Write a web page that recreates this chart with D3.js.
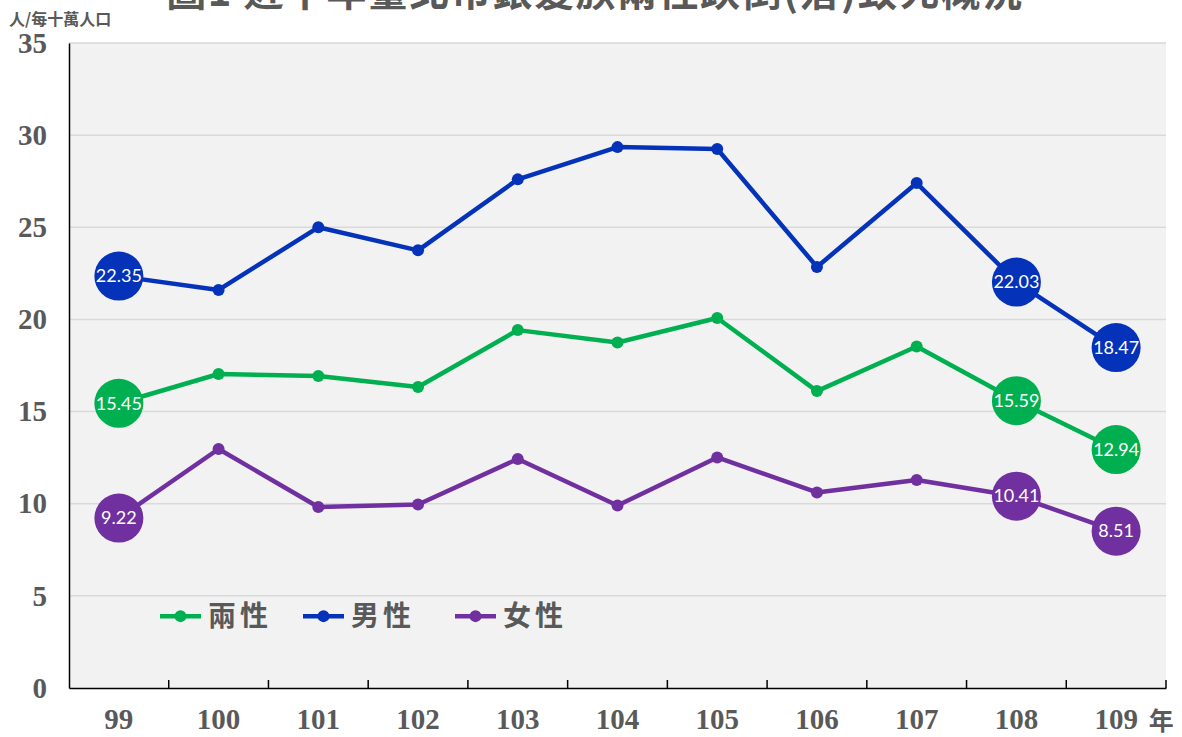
<!DOCTYPE html>
<html>
<head>
<meta charset="utf-8">
<script src="https://cdn.jsdelivr.net/npm/d3@7"></script>
<style>
  body { margin: 0; background: #fff; }
  svg { display: block; }
</style>
</head>
<body>
<svg width="1182" height="737"></svg>
<script>
const years = ["99", "100", "101", "102", "103", "104", "105", "106", "107", "108", "109"];
const both = [15.45, 17.04, 16.93, 16.33, 19.42, 18.75, 20.08, 16.11, 18.53, 15.59, 12.94];
const male = [22.35, 21.6, 25.0, 23.75, 27.6, 29.35, 29.25, 22.85, 27.4, 22.03, 18.47];
const female = [9.22, 12.97, 9.82, 9.96, 12.43, 9.9, 12.51, 10.61, 11.29, 10.41, 8.51];
const yTicks = [0, 5, 10, 15, 20, 25, 30, 35];
const seriesNames = ["兩性", "男性", "女性"];
const labelled = ["99", "108", "109"];

const svg = d3.select("svg");
const margin = { top: 43, left: 69, right: 16, bottom: 49 };
const width = +svg.attr("width");
const height = +svg.attr("height");
const textGray = "#595959";
const colors = ["#00b050", "#0433b9", "#7030a0"];
const cjk = "'Noto Sans CJK TC', sans-serif";
const serif = "'Liberation Serif', 'Times New Roman', serif";

const xScale = d3.scaleBand()
  .domain(years)
  .range([margin.left, width - margin.right])
  .padding(0);
const yScale = d3.scaleLinear()
  .domain([0, 35])
  .range([height - margin.bottom, margin.top]);

// plot background
svg.append("rect")
  .attr("x", margin.left)
  .attr("y", yScale(35))
  .attr("width", width - margin.left - margin.right)
  .attr("height", yScale(0) - yScale(35))
  .attr("fill", "#f2f2f2");

// gridlines
svg.append("g")
  .selectAll("line")
  .data(yTicks.filter(d => d > 0))
  .join("line")
  .attr("x1", margin.left)
  .attr("x2", width - margin.right)
  .attr("y1", d => yScale(d))
  .attr("y2", d => yScale(d))
  .attr("stroke", "#d9d9d9")
  .attr("stroke-width", 1.5);

// y axis
const yAxis = svg.append("g")
  .attr("transform", `translate(${margin.left},0)`)
  .call(d3.axisLeft(yScale).tickValues(yTicks).tickSize(0).tickPadding(22));
yAxis.select(".domain").attr("stroke", "#000").attr("stroke-width", 1.5);
yAxis.selectAll("text")
  .attr("fill", textGray)
  .style("font-family", serif)
  .style("font-weight", "bold")
  .style("font-size", "29px");

// x axis
const xAxis = svg.append("g")
  .attr("transform", `translate(0,${yScale(0)})`)
  .call(d3.axisBottom(xScale).tickSize(0).tickPadding(20));
xAxis.select(".domain").attr("stroke", "#000").attr("stroke-width", 1.5);
xAxis.selectAll("text")
  .attr("fill", textGray)
  .style("font-family", serif)
  .style("font-weight", "bold")
  .style("font-size", "29px");

// tick marks at category boundaries
svg.append("g")
  .selectAll("line")
  .data(years.slice(1).concat(["end"]))
  .join("line")
  .attr("x1", d => d === "end" ? width - margin.right : xScale(d))
  .attr("x2", d => d === "end" ? width - margin.right : xScale(d))
  .attr("y1", yScale(0))
  .attr("y2", yScale(0) - 8)
  .attr("stroke", "#000")
  .attr("stroke-width", 1.5);

svg.append("text")
  .attr("x", xScale("109") + xScale.bandwidth() / 2 + 45)
  .attr("y", yScale(0) + 42)
  .attr("text-anchor", "middle")
  .attr("fill", textGray)
  .style("font-family", cjk)
  .style("font-weight", "bold")
  .style("font-size", "25px")
  .text("年");

// title (its top runs past the page edge, as in the source)
svg.append("text")
  .attr("x", 595)
  .attr("y", 6)
  .attr("text-anchor", "middle")
  .attr("fill", textGray)
  .style("font-family", cjk)
  .style("font-weight", "bold")
  .style("font-size", "40px")
  .style("letter-spacing", "1.5px")
  .text("圖1 近十年臺北市銀髮族兩性跌倒(落)致死概況");

// unit label
svg.append("text")
  .attr("x", 9)
  .attr("y", 25)
  .attr("fill", textGray)
  .style("font-family", cjk)
  .style("font-weight", "bold")
  .style("font-size", "16px")
  .text("人/每十萬人口");

const series = [both, male, female].map((vals, i) => ({
  name: seriesNames[i],
  color: colors[i],
  values: vals.map((v, j) => ({ year: years[j], value: v }))
}));

const cx = d => xScale(d.year) + xScale.bandwidth() / 2;
const line = d3.line().x(cx).y(d => yScale(d.value));

const sg = svg.append("g")
  .selectAll("g")
  .data(series)
  .join("g");

sg.append("path")
  .attr("d", d => line(d.values))
  .attr("fill", "none")
  .attr("stroke", d => d.color)
  .attr("stroke-width", 4.5)
  .attr("stroke-linejoin", "round");

sg.selectAll("circle")
  .data(d => d.values.map(v => ({ ...v, color: d.color })))
  .join("circle")
  .attr("cx", cx)
  .attr("cy", d => yScale(d.value))
  .attr("r", d => labelled.includes(d.year) ? 24.5 : 6)
  .attr("fill", d => d.color);

sg.selectAll("text")
  .data(d => d.values.filter(v => labelled.includes(v.year)))
  .join("text")
  .attr("x", cx)
  .attr("y", d => yScale(d.value))
  .attr("dy", "0.35em")
  .attr("text-anchor", "middle")
  .attr("fill", "#fff")
  .style("font-family", "Lato, 'Open Sans', sans-serif")
  .style("font-size", "18px")
  .text(d => d.value.toFixed(2));

// legend
const legend = svg.append("g")
  .attr("transform", `translate(160,${yScale(3.9)})`)
  .selectAll("g")
  .data(series)
  .join("g")
  .attr("transform", (d, i) => `translate(${[0, 143, 295][i]},0)`);

legend.append("line")
  .attr("x1", 0)
  .attr("x2", 41)
  .attr("stroke", d => d.color)
  .attr("stroke-width", 4.5);
legend.append("circle")
  .attr("cx", 20.5)
  .attr("r", 6)
  .attr("fill", d => d.color);
legend.append("text")
  .attr("x", 48)
  .attr("dy", "0.36em")
  .attr("fill", textGray)
  .style("font-family", cjk)
  .style("font-weight", "bold")
  .style("font-size", "28px")
  .style("letter-spacing", "4px")
  .text(d => d.name);
</script>
</body>
</html>
